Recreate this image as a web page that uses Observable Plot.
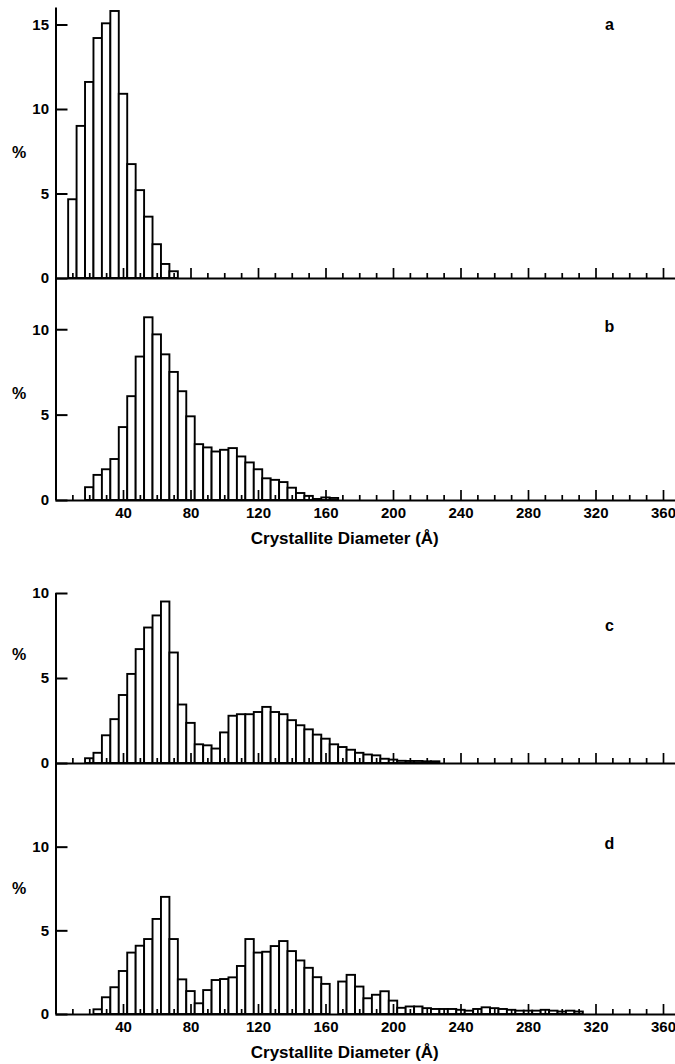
<!DOCTYPE html>
<html><head><meta charset="utf-8">
<script src="https://cdn.jsdelivr.net/npm/d3@7"></script>
<script src="https://cdn.jsdelivr.net/npm/@observablehq/plot@0.6"></script>
<style>
body{margin:0;background:#fff;}
#wrap{position:relative;width:675px;height:1064px;overflow:hidden;background:#fff;}
#wrap svg{position:absolute;left:0;}
</style></head><body><div id="wrap"></div>
<script>
// ---- data (bin centres in Å, bin width 5 Å; values in %) ----
const binWidth = 5;
const centersA = [10,15,20,25,30,35,40,45,50,55,60,65,70];
const valuesA  = [4.66,9.0,11.6,14.2,15.07,15.8,10.9,6.74,5.2,3.63,2.0,0.83,0.4];

const centersB = [20,25,30,35,40,45,50,55,60,65,70,75,80,85,90,95,100,105,110,115,120,125,130,135,140,145,150,155,160,165];
const valuesB  = [0.75,1.47,1.8,2.4,4.27,6.08,8.4,10.7,9.7,8.53,7.5,6.37,4.9,3.27,3.08,2.84,2.94,3.04,2.55,2.2,1.8,1.27,1.18,1.05,0.72,0.41,0.24,0.06,0.15,0.12];

const centersC = [20,25,30,35,40,45,50,55,60,65,70,75,80,85,90,95,100,105,110,115,120,125,130,135,140,145,150,155,160,165,170,175,180,185,190,195,200,205,210,215,220,225];
const valuesC  = [0.28,0.6,1.63,2.58,4.0,5.24,6.7,7.97,8.68,9.5,6.5,3.44,2.36,1.1,1.04,0.85,1.8,2.78,2.87,2.87,3.0,3.3,3.0,2.87,2.52,2.22,1.98,1.67,1.43,1.1,0.94,0.78,0.6,0.5,0.45,0.25,0.2,0.13,0.12,0.12,0.1,0.1];

const centersD = [25,30,35,40,45,50,55,60,65,70,75,80,85,90,95,100,105,110,115,120,125,130,135,140,145,150,155,160,165,170,175,180,185,190,195,200,205,210,215,220,225,230,235,240,245,250,255,260,265,270,275,280,285,290,295,300,305,310];
const valuesD  = [0.28,1.0,1.6,2.57,3.67,4.08,4.48,5.68,7.0,4.48,2.07,1.37,0.64,1.43,2.03,2.09,2.19,2.87,4.48,3.67,3.72,4.06,4.36,3.76,3.2,2.76,2.2,1.8,0,1.94,2.34,1.64,0.94,1.15,1.36,0.8,0.37,0.45,0.45,0.35,0.3,0.3,0.3,0.25,0.2,0.3,0.4,0.35,0.3,0.25,0.2,0.2,0.2,0.25,0.2,0.15,0.2,0.15];

const xMajorTicks = [40,80,120,160,200,240,280,320,360];
const xMinorTicks = [10,20,30,50,60,70,90,100,110,130,140,150,170,180,190,210,220,230,250,260,270,290,300,310,330,340,350];
const yTicksA = [0,5,10,15];
const yTicksB = [0,5,10];
const yTicksC = [0,5,10];
const yTicksD = [0,5,10];
const xTitle = "Crystallite Diameter (Å)";
const yTitle = "%";

// ---- layout ----
const W = 675, ML = 55.5, MR = 0;
const xDomain = [0, (W - ML) / 1.6875];
const font = "'Liberation Sans', Arial, sans-serif";

function panel({centers, values, yMax, yTicks, letter, top, height, marginTop, marginBottom, labels, pctDy, letterDy}) {
  const innerH = height - marginTop - marginBottom;
  const innerW = W - ML - MR;
  const data = centers.map((c, i) => ({x1: c - binWidth / 2, x2: c + binWidth / 2, v: values[i]}));
  const marks = [
    Plot.rectY(data, {x1: "x1", x2: "x2", y: "v", fill: "white", stroke: "black", strokeWidth: 1.9}),
    Plot.ruleX(xMinorTicks, {insetTop: innerH - 5, stroke: "black", strokeWidth: 1.7}),
    Plot.ruleX(xMajorTicks, {insetTop: innerH - 10, stroke: "black", strokeWidth: 1.7}),
    Plot.ruleY(yTicks, {insetRight: innerW - 12, stroke: "black", strokeWidth: 2}),
    Plot.ruleX([0], {stroke: "black", strokeWidth: 2}),
    Plot.ruleY([0], {stroke: "black", strokeWidth: 2}),
    Plot.axisY({ticks: yTicks, tickSize: 0, tickPadding: 7, fontSize: 15, fontWeight: "bold", label: null, tickFormat: d => String(d)}),
    Plot.text([yTitle], {text: d => d, frameAnchor: "left", dx: -37, dy: pctDy, fontSize: 16, fontWeight: "bold", textAnchor: "middle"}),
    Plot.text([letter], {text: d => d, frameAnchor: "top-right", dx: -66, dy: letterDy, fontSize: 16, fontWeight: "bold", textAnchor: "middle"})
  ];
  if (labels) {
    marks.push(Plot.axisX({ticks: xMajorTicks, tickSize: 0, tickPadding: 7, fontSize: 15, fontWeight: "bold", label: null, tickFormat: d => String(d)}));
    marks.push(Plot.text([xTitle], {text: d => d, frameAnchor: "bottom", dx: -21, dy: 43, lineAnchor: "bottom", fontSize: 17, fontWeight: "bold", textAnchor: "middle"}));
  }
  const svg = Plot.plot({
    width: W, height, marginLeft: ML, marginRight: MR, marginTop, marginBottom,
    x: {domain: xDomain, ...(labels ? {} : {axis: null})},
    y: {domain: [0, yMax]},
    style: {fontFamily: font, background: "transparent", overflow: "visible", color: "black"},
    marks
  });
  svg.style.top = top + "px";
  document.getElementById("wrap").appendChild(svg);
}

panel({centers: centersA, values: valuesA, yMax: 16, yTicks: yTicksA, letter: "a", top: 0, height: 290, marginTop: 7.6, marginBottom: 12, labels: false, pctDy: 10, letterDy: 11});
panel({centers: centersB, values: valuesB, yMax: 13, yTicks: yTicksB, letter: "b", top: 270, height: 290, marginTop: 8, marginBottom: 60, labels: true, pctDy: 4, letterDy: 42});
panel({centers: centersC, values: valuesC, yMax: 10, yTicks: yTicksC, letter: "c", top: 580, height: 195, marginTop: 13, marginBottom: 12, labels: false, pctDy: -24, letterDy: 26});
panel({centers: centersD, values: valuesD, yMax: 15, yTicks: yTicksD, letter: "d", top: 755, height: 309, marginTop: 8, marginBottom: 50, labels: true, pctDy: 0, letterDy: 74});
</script>
</body></html>
